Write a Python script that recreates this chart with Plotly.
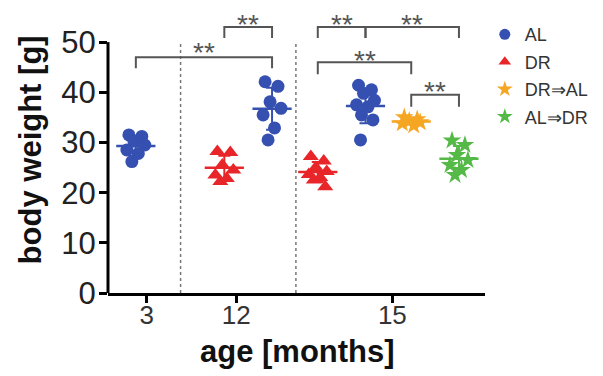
import numpy as np
import plotly.graph_objects as go

# ---------------- data ----------------
groups = ["AL 3", "DR 12", "AL 12", "DR 15", "AL 15", "DR⇒AL 15", "AL⇒DR 15"]
series = ["AL", "DR", "AL", "DR", "AL", "DR⇒AL", "AL⇒DR"]
al_3 = [31.5, 31.2, 30.3, 29.5, 28.5, 27.8, 26.2]
dr_12 = [28.2, 28.0, 25.5, 24.5, 23.5, 22.8, 22.2]
al_12 = [42.1, 41.2, 38.1, 36.8, 35.5, 32.9, 30.5]
dr_15 = [27.2, 26.3, 25.0, 24.2, 23.6, 23.0, 22.5, 21.2]
al_15 = [41.4, 40.5, 39.8, 38.4, 37.5, 37.1, 35.5, 34.5, 30.5]
dr_al_15 = [35.0, 34.6, 34.3, 34.0, 33.8, 33.4]
al_dr_15 = [30.4, 29.5, 27.5, 26.5, 25.5, 24.5, 23.5]
values = [al_3, dr_12, al_12, dr_15, al_15, dr_al_15, al_dr_15]
tick_labels = ["3", "12", "15"]
y_ticks = [0, 10, 20, 30, 40, 50]
legend_names = ["AL", "DR", "DR⇒AL", "AL⇒DR"]
sig_label = "**"
x_title = "age [months]"
y_title = "body weight [g]"

# ---------------- layout constants ----------------
group_x = [0.56, 2.34, 3.30, 4.22, 5.18, 6.10, 7.06]
tick_x = [0.78, 2.58, 5.72]
divider_x = [1.46, 3.78]
jitter = [-0.14, 0.12, -0.04, 0.18, -0.18, 0.05, -0.08, 0.15, -0.1]
style = {
    "AL": dict(color="#3550B0", symbol="circle", size=13),
    "DR": dict(color="#E8262A", symbol="triangle-up", size=14),
    "DR⇒AL": dict(color="#F5A623", symbol="star", size=14),
    "AL⇒DR": dict(color="#55B947", symbol="star", size=14),
}
# brackets: (group a, group b, top level, leg drop, label level)
brackets = [
    (0, 2, 47.0, 2.2, 49.4),
    (1, 2, 53.0, 2.2, 55.0),
    (3, 4, 53.0, 2.2, 55.0),
    (4, 6, 53.0, 2.2, 55.0),
    (3, 5, 46.0, 2.4, 47.8),
    (5, 6, 39.5, 2.4, 41.5),
]
FONT = "Liberation Sans, Arial"

fig = go.Figure()

for gi, (vals, s) in enumerate(zip(values, series)):
    st = style[s]
    xs = [group_x[gi] + jitter[i % len(jitter)] for i in range(len(vals))]
    fig.add_trace(go.Scatter(
        x=xs, y=vals, mode="markers", showlegend=False,
        marker=dict(color=st["color"], symbol=st["symbol"], size=st["size"],
                    line=dict(width=0)),
        hoverinfo="y"))
    m = float(np.mean(vals))
    sd = float(np.std(vals, ddof=1))
    fig.add_trace(go.Scatter(
        x=[group_x[gi]], y=[m], mode="markers", showlegend=False,
        marker=dict(symbol="line-ew", size=28, color=st["color"],
                    line=dict(width=2.5, color=st["color"])),
        error_y=dict(type="data", array=[sd], visible=True,
                     color=st["color"], thickness=2, width=6)))

# legend-only traces
leg_sizes = {"AL": 11, "DR": 11, "DR⇒AL": 12, "AL⇒DR": 12}
for name in legend_names:
    st = style[name]
    fig.add_trace(go.Scatter(
        x=[None], y=[None], mode="markers", name=name, legendgroup=name,
        marker=dict(color=st["color"], symbol=st["symbol"], size=leg_sizes[name])))

# dividers
for dx in divider_x:
    fig.add_shape(type="line", x0=dx, x1=dx, y0=0, y1=50, xref="x", yref="y",
                  line=dict(color="#777", width=1.5, dash="dot"))

# y axis line (0..50)
fig.add_shape(type="line", xref="paper", x0=0, x1=0, yref="y", y0=0, y1=50,
              line=dict(color="black", width=3))

# brackets
bc = "#555555"
for a, b, top, drop, lab in brackets:
    xa, xb = group_x[a], group_x[b]
    fig.add_shape(type="path",
                  path=f"M {xa},{top-drop} L {xa},{top} L {xb},{top} L {xb},{top-drop}",
                  xref="x", yref="y", line=dict(color=bc, width=2))
    fig.add_annotation(x=(xa + xb) / 2, y=lab, text=sig_label, showarrow=False,
                       xref="x", yref="y", yshift=-7,
                       font=dict(family=FONT, size=28, color="#555"))

# axis titles
fig.add_annotation(x=-0.206, y=0.5, xref="paper", yref="paper", text=f"<b>{y_title}</b>",
                   textangle=-90, showarrow=False, xanchor="center", yanchor="middle",
                   font=dict(family=FONT, size=31, color="#111"))
fig.add_annotation(x=0.504, y=-0.206, xref="paper", yref="paper", text=f"<b>{x_title}</b>",
                   showarrow=False, xanchor="center", yanchor="middle",
                   font=dict(family=FONT, size=31, color="#111"))

fig.update_layout(
    width=603, height=376,
    margin=dict(l=108, r=116, t=7, b=83),
    plot_bgcolor="white", paper_bgcolor="white",
    font=dict(family=FONT, color="#222"),
    showlegend=True,
    legend=dict(x=0.804, y=0.957, xref="container", yref="container",
                xanchor="left", yanchor="top",
                font=dict(size=18, color="#333"), bgcolor="rgba(0,0,0,0)",
                itemwidth=30, tracegroupgap=1),
    xaxis=dict(range=[0, 7.58], showgrid=False, zeroline=False, automargin=False,
               showline=True, linecolor="black", linewidth=3,
               tickmode="array", tickvals=tick_x, ticktext=tick_labels,
               ticks="outside", ticklen=7, tickwidth=2.5, tickcolor="black",
               ticklabelstandoff=-10,
               tickfont=dict(size=26, color="#333")),
    yaxis=dict(range=[0, 57], showgrid=False, zeroline=False, showline=False,
               automargin=False,
               tickmode="array", tickvals=y_ticks,
               ticks="outside", ticklen=8, tickwidth=2.5, tickcolor="black",
               ticklabelstandoff=-3,
               tickfont=dict(size=31, color="#222")),
)

fig.write_html("out.html", config={"displayModeBar": False},
               post_script="document.body.style.margin='0';")
